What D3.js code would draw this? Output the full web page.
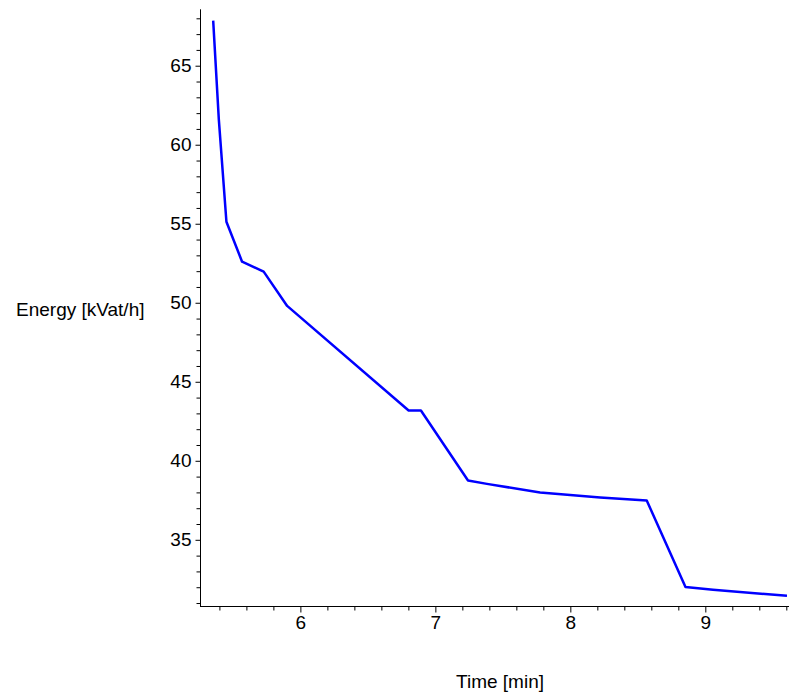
<!DOCTYPE html>
<html>
<head>
<meta charset="utf-8">
<script src="https://cdn.jsdelivr.net/npm/d3@7"></script>
<style>
  html, body { margin: 0; padding: 0; background: #fff; }
  svg { display: block; }
  text { font-family: "Liberation Sans", Arial, sans-serif; fill: #000; }
</style>
</head>
<body>
<svg id="chart" width="795" height="698"></svg>
<script>
// Data
const timeMin = [5.354, 5.396, 5.452, 5.568, 5.728, 5.902, 6.802, 6.893, 7.242, 7.382, 7.776, 8.221, 8.566, 8.853, 9.057, 9.605];
const energy  = [67.85, 61.57, 55.13, 52.60, 51.97, 49.80, 43.18, 43.18, 38.75, 38.54, 37.99, 37.68, 37.49, 32.01, 31.84, 31.46];

const xMajorTicks = [6, 7, 8, 9];
const xMinorTicks = [5.4, 5.6, 5.8, 6.2, 6.4, 6.6, 6.8, 7.2, 7.4, 7.6, 7.8, 8.2, 8.4, 8.6, 8.8, 9.2, 9.4, 9.6];
const yMajorTicks = [35, 40, 45, 50, 55, 60, 65];
const yMinorTicks = [31, 32, 33, 34, 36, 37, 38, 39, 41, 42, 43, 44, 46, 47, 48, 49, 51, 52, 53, 54, 56, 57, 58, 59, 61, 62, 63, 64, 66, 67, 68];

const xLabel = "Time [min]";
const yLabel = "Energy [kVat/h]";

(function () {
const svg = d3.select("#chart");
const pLeft = 200.5, pRight = 789, pTop = 9.3, pBottom = 606.5;

const x = d3.scaleLinear().domain([5.26, 9.62]).range([pLeft, pRight]);
const y = d3.scaleLinear().domain([30.78, 68.57]).range([pBottom, pTop]);

const fontSize = 19;

// X axis
const gx = svg.append("g").attr("transform", `translate(0,${pBottom})`);
gx.call(d3.axisBottom(x).tickValues(xMinorTicks).tickSize(4).tickSizeOuter(0).tickFormat(""))
  .call(g => g.select(".domain").remove());
gx.append("g").call(d3.axisBottom(x).tickValues(xMajorTicks).tickSize(6).tickSizeOuter(0).tickPadding(3).tickFormat(d3.format("d")))
  .call(g => g.select(".domain").remove())
  .call(g => g.selectAll("text").attr("font-size", fontSize).attr("font-family", null).attr("fill", "#000"));
gx.selectAll(".tick line").attr("stroke", "#000");
gx.append("line").attr("x1", pLeft - 0.5).attr("x2", pRight).attr("y1", 0).attr("y2", 0).attr("stroke", "#000");

// Y axis
const gy = svg.append("g").attr("transform", `translate(${pLeft},0)`);
gy.call(d3.axisLeft(y).tickValues(yMinorTicks).tickSize(4).tickSizeOuter(0).tickFormat(""))
  .call(g => g.select(".domain").remove());
gy.append("g").call(d3.axisLeft(y).tickValues(yMajorTicks).tickSize(5).tickSizeOuter(0).tickPadding(4).tickFormat(d3.format("d")))
  .call(g => g.select(".domain").remove())
  .call(g => g.selectAll("text").attr("font-size", fontSize).attr("font-family", null).attr("fill", "#000"));
gy.selectAll(".tick line").attr("stroke", "#000");
gy.append("line").attr("x1", 0).attr("x2", 0).attr("y1", pTop).attr("y2", pBottom + 0.5).attr("stroke", "#000");

// Line
const line = d3.line().x((d, i) => x(timeMin[i])).y(d => y(d));
svg.append("path")
  .datum(energy)
  .attr("d", line)
  .attr("fill", "none")
  .attr("stroke", "#0000ff")
  .attr("stroke-width", 2.5)
  .attr("stroke-linejoin", "round");

// Axis labels
svg.append("text").attr("x", 500).attr("y", 688).attr("text-anchor", "middle")
  .attr("font-size", fontSize).text(xLabel);
svg.append("text").attr("x", 16).attr("y", 316).attr("text-anchor", "start")
  .attr("font-size", fontSize).text(yLabel);
})();
</script>
</body>
</html>
